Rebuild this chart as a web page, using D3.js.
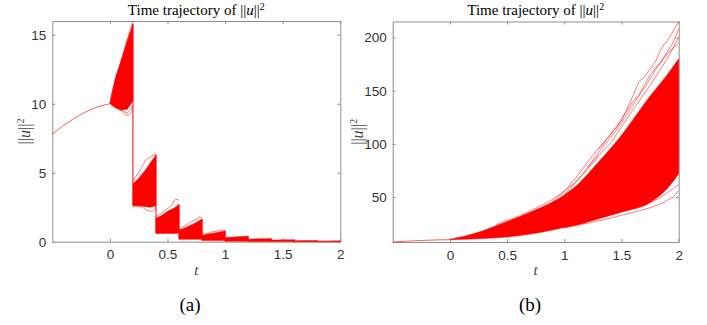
<!DOCTYPE html>
<html>
<head>
<meta charset="utf-8">
<script src="https://cdn.jsdelivr.net/npm/d3@7"></script>
<style>
  body { margin: 0; background: #fff; }
</style>
</head>
<body>
<div id="chart"></div>
<script>
// history on [-0.5, 0] (same in both panels)
const histT = [-0.5, -0.4, -0.3, -0.2, -0.1, 0];
const histV = [7.8, 8.45, 9.0, 9.45, 9.8, 10.0];

// panel (a): impulse times and band of trajectories in each interval
const jumpT = [0, 0.2, 0.4, 0.6, 0.8, 1.0, 1.2, 1.4, 1.6, 1.8, 2.0];
const segFrac = [0, 0.25, 0.5, 0.75, 1];
const hiA = [
  [10.0, 11.9, 13.2, 14.5, 15.8],
  [4.2, 4.6, 5.1, 5.7, 6.3],
  [1.7, 1.9, 2.2, 2.4, 2.7],
  [0.85, 1.0, 1.2, 1.4, 1.65],
  [0.45, 0.55, 0.62, 0.7, 0.78],
  [0.3, 0.33, 0.35, 0.38, 0.4],
  [0.18, 0.2, 0.21, 0.22, 0.23],
  [0.12, 0.13, 0.14, 0.14, 0.15],
  [0.07, 0.08, 0.08, 0.09, 0.09],
  [0.04, 0.05, 0.05, 0.06, 0.06]
];
const loA = [
  [10.0, 9.7, 9.55, 9.6, 10.2],
  [2.6, 2.6, 2.55, 2.5, 2.6],
  [0.6, 0.6, 0.6, 0.6, 0.62],
  [0.17, 0.17, 0.17, 0.17, 0.18],
  [0.08, 0.08, 0.08, 0.08, 0.08],
  [0.03, 0.03, 0.03, 0.03, 0.03],
  [0.02, 0.02, 0.02, 0.02, 0.02],
  [0.01, 0.01, 0.01, 0.01, 0.01],
  [0, 0, 0, 0, 0],
  [0, 0, 0, 0, 0]
];
// single trajectories that stand out of the band in (a)
const outA = [
  [[0, 10], [0.02, 10.9], [0.108, 13.4], [0.195, 15.9], [0.2, 16]],
  [[0.01, 10.4], [0.05, 11.9], [0.1, 13.0], [0.15, 14.6], [0.2, 15.5]],
  [[0.05, 9.7], [0.1, 9.5], [0.13, 9.25], [0.16, 9.15], [0.19, 9.45], [0.2, 9.7]],
  [[0.08, 9.6], [0.12, 9.45], [0.15, 9.35], [0.18, 9.6], [0.2, 9.9]],
  [[0.2, 2.6], [0.28, 2.5], [0.33, 2.25], [0.37, 2.2], [0.4, 2.5]],
  [[0.2, 4.4], [0.27, 5.3], [0.31, 5.9], [0.36, 6.2], [0.4, 6.4]],
  [[0.4, 1.8], [0.47, 2.2], [0.53, 2.6], [0.57, 3.1], [0.6, 3.0]],
  [[0.6, 0.9], [0.68, 1.3], [0.74, 1.6], [0.78, 1.8], [0.8, 1.7]],
  [[0.8, 0.5], [0.88, 0.7], [0.94, 0.8], [0.98, 0.85], [1.0, 0.8]]
];

// panel (b): band of trajectories
const bandT = [0, 0.25, 0.5, 0.75, 1.0, 1.12, 1.25, 1.5, 1.75, 1.9, 2.0];
const hiB = [10.3, 17, 27, 38, 52, 62, 77, 108, 145, 165, 180];
const loB = [10.0, 10.8, 12.5, 16, 21.5, 24, 28, 36, 45, 58, 72];
const outB = [
  [[0.9, 46], [1.0, 55], [1.1, 68], [1.2, 82], [1.3, 96], [1.4, 108], [1.5, 122], [1.58, 140], [1.65, 158], [1.7, 163], [1.8, 178], [1.85, 190], [1.92, 200], [2.0, 215]],
  [[1.0, 52], [1.15, 70], [1.3, 92], [1.45, 112], [1.55, 128], [1.65, 145], [1.75, 165], [1.85, 178], [1.95, 195], [2.0, 208]],
  [[1.2, 78], [1.4, 100], [1.6, 132], [1.75, 155], [1.9, 180], [2.0, 200]],
  [[0.4, 24], [0.6, 32], [0.8, 42], [0.9, 48], [1.0, 56], [1.1, 64], [1.2, 76], [1.3, 88]],
  [[1.3, 95], [1.45, 115], [1.6, 140], [1.7, 152], [1.8, 170], [1.9, 185], [2.0, 195]],
  [[1.0, 21], [1.2, 25.5], [1.4, 30], [1.5, 33], [1.6, 35.5], [1.75, 40], [1.85, 44], [1.95, 50], [2.0, 56]],
  [[1.0, 23], [1.25, 29], [1.5, 36], [1.7, 42], [1.85, 50], [2.0, 62]]
];

const xTicks = [0, 0.5, 1, 1.5, 2];
const yTicksA = [0, 5, 10, 15];
const yTicksB = [50, 100, 150, 200];

const W = 707, H = 325;
const RED = '#ff0000', AXIS = '#8f8f8f';
const SERIF = '"Liberation Serif", "Times New Roman", serif';
const SANS = '"Liberation Sans", Arial, sans-serif';

const svg = d3.select('#chart').append('svg')
  .attr('width', W).attr('height', H);

function normLabel(sel, size, dy) {
  sel.append('tspan').text('||');
  sel.append('tspan').style('font-style', 'italic').text('u');
  sel.append('tspan').text('||');
  sel.append('tspan').attr('dy', dy).style('font-size', size + 'px').text('2');
}

function frame(x, y, yTicks, caption, capX, labelGap) {
  const g = svg.append('g');
  const [x0, x1] = x.range(), [y0, y1] = y.range();
  const fmt = d => String(d);

  g.append('g').attr('transform', `translate(0,${y0})`)
    .call(d3.axisBottom(x).tickValues(xTicks).tickFormat(fmt).tickSizeInner(-3).tickSizeOuter(0).tickPadding(8));
  g.append('g').attr('transform', `translate(0,${y1})`)
    .call(d3.axisTop(x).tickValues(xTicks).tickFormat('').tickSizeInner(-3).tickSizeOuter(0));
  g.append('g').attr('transform', `translate(${x0},0)`)
    .call(d3.axisLeft(y).tickValues(yTicks).tickFormat(fmt).tickSizeInner(-3).tickSizeOuter(0).tickPadding(6));
  g.append('g').attr('transform', `translate(${x1},0)`)
    .call(d3.axisRight(y).tickValues(yTicks).tickFormat('').tickSizeInner(-3).tickSizeOuter(0));

  g.selectAll('.domain').attr('stroke', AXIS);
  g.selectAll('.tick line').attr('stroke', AXIS);
  g.selectAll('.tick text').attr('fill', '#333')
    .style('font-family', SANS).style('font-size', '13.5px');

  const cx = (x0 + x1) / 2;
  const title = g.append('text').attr('x', cx).attr('y', 15).attr('text-anchor', 'middle')
    .style('font-family', SERIF).style('font-size', '15px');
  title.append('tspan').text('Time trajectory of ');
  normLabel(title, 10, -5);

  const yl = g.append('text')
    .attr('transform', `translate(${x0 - labelGap},${(y0 + y1) / 2}) rotate(-90)`)
    .attr('text-anchor', 'middle').attr('fill', '#444')
    .style('font-family', SERIF).style('font-size', '16px');
  normLabel(yl, 10.5, -6);

  g.append('text').attr('x', cx).attr('y', y0 + 33).attr('text-anchor', 'middle')
    .attr('fill', '#444')
    .style('font-family', SERIF).style('font-style', 'italic').style('font-size', '15px')
    .text('t');

  g.append('text').attr('x', capX).attr('y', 311).attr('text-anchor', 'middle')
    .style('font-family', SERIF).style('font-size', '19px')
    .text(caption);
}

function drawOut(g, x, y, lines) {
  const line = d3.line().x(d => x(d[0])).y(d => y(d[1]));
  g.selectAll(null).data(lines).enter().append('path')
    .attr('d', line).attr('fill', 'none')
    .attr('stroke', RED).attr('stroke-width', 0.7).attr('stroke-opacity', 0.75);
}

// ---- panel (a)
const xA = d3.scaleLinear([-0.5, 2], [52.3, 340.3]);
const yA = d3.scaleLinear([0, 16], [241.7, 21]);
frame(xA, yA, yTicksA, '(a)', 190, 22);

const gA = svg.append('g');
gA.append('path')
  .datum(histT.map((t, i) => [t, histV[i]]))
  .attr('d', d3.line().x(d => xA(d[0])).y(d => yA(d[1])))
  .attr('fill', 'none').attr('stroke', RED).attr('stroke-width', 0.8).attr('stroke-opacity', 0.8);

const bandA = d3.area().x(d => xA(d.t)).y0(d => yA(d.lo)).y1(d => yA(d.hi));
hiA.forEach((hi, k) => {
  const t0 = jumpT[k], t1 = jumpT[k + 1];
  const pts = segFrac.map((f, i) => ({ t: t0 + f * (t1 - t0), hi: hi[i], lo: loA[k][i] }));
  gA.append('path').attr('d', bandA(pts))
    .attr('fill', RED).attr('stroke', RED).attr('stroke-width', 0.5);
  if (k > 0) {
    gA.append('line')
      .attr('x1', xA(t0)).attr('x2', xA(t0))
      .attr('y1', yA(d3.max(hiA[k - 1]))).attr('y2', yA(loA[k][0]))
      .attr('stroke', RED).attr('stroke-width', 1);
  }
});
drawOut(gA, xA, yA, outA);

// ---- panel (b)
const xB = d3.scaleLinear([-0.5, 2], [392.7, 678.7]);
const yB = d3.scaleLinear([7.8, 215], [242, 21.5]);
frame(xB, yB, yTicksB, '(b)', 530, 30);

const gB = svg.append('g');
gB.append('path')
  .datum(histT.map((t, i) => [t, histV[i]]))
  .attr('d', d3.line().x(d => xB(d[0])).y(d => yB(d[1])))
  .attr('fill', 'none').attr('stroke', RED).attr('stroke-width', 0.8).attr('stroke-opacity', 0.8);

const ptsB = bandT.map((t, i) => ({ t, hi: hiB[i], lo: loB[i] }));
gB.append('path')
  .attr('d', d3.area().x(d => xB(d.t)).y0(d => yB(d.lo)).y1(d => yB(d.hi)).curve(d3.curveMonotoneX)(ptsB))
  .attr('fill', RED).attr('stroke', RED).attr('stroke-width', 0.5);
drawOut(gB, xB, yB, outB);
</script>
</body>
</html>
